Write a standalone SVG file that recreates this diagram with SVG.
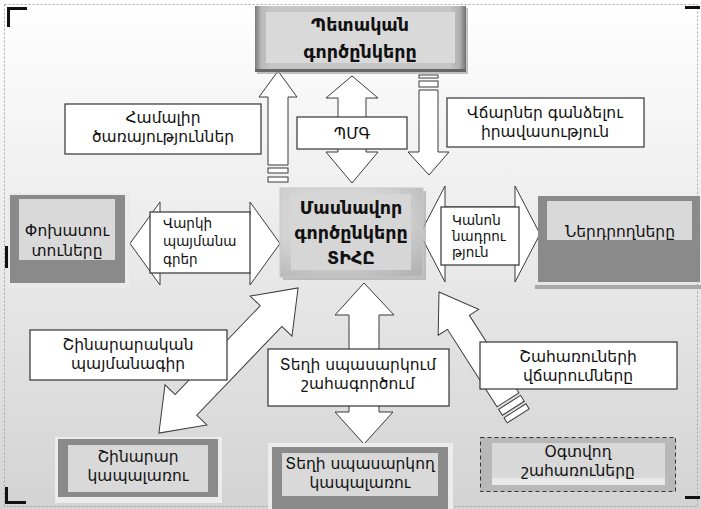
<svg xmlns="http://www.w3.org/2000/svg" width="701" height="509" viewBox="0 0 701 509">
<defs>
<linearGradient id="bg" x1="0" y1="0" x2="0" y2="1">
<stop offset="0" stop-color="#ffffff"/>
<stop offset="0.4" stop-color="#eeeeee"/>
<stop offset="1" stop-color="#d3d3d3"/>
</linearGradient>
<linearGradient id="bevelH" x1="0" y1="0" x2="1" y2="0">
<stop offset="0" stop-color="#7a7a7a"/>
<stop offset="0.03" stop-color="#b8b8b8"/>
<stop offset="0.08" stop-color="#c6c6c6"/>
<stop offset="0.92" stop-color="#c6c6c6"/>
<stop offset="0.97" stop-color="#b0b0b0"/>
<stop offset="1" stop-color="#727272"/>
</linearGradient>
<radialGradient id="ctr" cx="0.4" cy="0.35" r="0.8">
<stop offset="0" stop-color="#e4e4e4"/>
<stop offset="0.6" stop-color="#cfcfcf"/>
<stop offset="1" stop-color="#b4b4b4"/>
</radialGradient>
<style>
.lbl{font-family:"DejaVu Sans","Liberation Sans",sans-serif;font-size:15.5px;fill:#111;text-anchor:middle}
.sm{font-family:"DejaVu Sans","Liberation Sans",sans-serif;font-size:13.5px;fill:#111}
.bold{font-family:"DejaVu Sans","Liberation Sans",sans-serif;font-weight:bold;font-size:17.5px;fill:#111;text-anchor:middle}
.arrow{fill:#ffffff;stroke:#3a3a3a;stroke-width:1}
.box{fill:#ffffff;stroke:#333333;stroke-width:1.2}
.dark{fill:#8a8a8a}
.inner{fill:#d9d9d9}
.mark{fill:#111111}
</style>
</defs>

<rect x="0" y="0" width="701" height="509" fill="url(#bg)"/>
<rect x="4.5" y="4.5" width="693" height="502" fill="none" stroke="#a8a8a8" stroke-width="1" stroke-dasharray="2 2"/>

<g id="frame-marks">
<path class="mark" d="M7 7 H27 V10 H10 V27 H7 Z"/>
<path class="mark" d="M5 487 H8 V501 H26 V504 H5 Z"/>
<rect class="mark" x="685" y="6" width="15" height="3"/>
<rect class="mark" x="685" y="496" width="15" height="3"/>
<rect class="mark" x="345" y="7" width="22" height="3"/>
<rect class="mark" x="345" y="503" width="22" height="3"/>
<rect class="mark" x="5" y="246" width="5" height="22"/>
</g>

<g id="connectors">
<polygon class="arrow" points="278,71 297,97 288,97 288,165 268,165 268,97 259,97"/>
<rect class="arrow" x="268" y="168" width="20" height="5"/>
<rect class="arrow" x="268" y="177" width="20" height="5"/>

<polygon class="arrow" points="352,76 378,98 366,98 366,152 378,152 352,183 326,152 338,152 338,98 326,98"/>

<rect class="arrow" x="419" y="75" width="19" height="3"/>
<rect class="arrow" x="419" y="81" width="19" height="6"/>
<polygon class="arrow" points="419,90 438,90 438,152 449,152 429,175 408,152 419,152"/>

<polygon class="arrow" points="130,243.5 160,202 160,215 250,215 250,202 280,243.5 250,285 250,272 160,272 160,285"/>

<polygon class="arrow" points="420,234 445,186 445,207 515,207 515,186 540,234 515,282 515,262 445,262 445,282"/>

<polygon class="arrow" transform="translate(228.5,360.5) rotate(-46.2)" points="-100.5,0 -61.5,-29 -61.5,-15 61.5,-15 61.5,-29 100.5,0 61.5,29 61.5,15 -61.5,15 -61.5,29"/>

<polygon class="arrow" points="364,283 394,315 379,315 379,412 393,412 364,444 335,412 349,412 349,315 335,315"/>

<g transform="translate(439,292) rotate(-32.6)">
<polygon class="arrow" points="0,0 24,36 13,36 13,128 -13,128 -13,36 -24,36"/>
<rect class="arrow" x="-13" y="131" width="26" height="7"/>
<rect class="arrow" x="-13" y="141" width="26" height="6"/>
</g>
</g>

<g id="label-hamalir">
<rect class="box" x="65" y="104" width="196" height="50"/>
<text class="lbl" x="163" y="123">Համալիր</text>
<text class="lbl" x="163" y="142">ծառայություններ</text>
</g>
<g id="label-pmg">
<rect class="box" x="297" y="117" width="110" height="32"/>
<text class="lbl" x="352" y="139">ՊՄԳ</text>
</g>
<g id="label-vcharner">
<rect class="box" x="447" y="98" width="197" height="49"/>
<text class="lbl" x="545" y="118">Վճարներ գանձելու</text>
<text class="lbl" x="545" y="137">իրավասություն</text>
</g>
<g id="label-varki">
<rect class="box" x="150" y="212" width="100" height="61"/>
<text class="sm" x="163" y="228">Վարկի</text>
<text class="sm" x="163" y="246">պայմանա</text>
<text class="sm" x="163" y="264">գրեր</text>
</g>
<g id="label-kanon">
<rect class="box" x="441" y="207" width="78" height="58"/>
<text class="sm" x="452" y="225" font-size="12">Կանոն</text>
<text class="sm" x="452" y="241" font-size="12">նադրու</text>
<text class="sm" x="452" y="257" font-size="12">թյուն</text>
</g>
<g id="label-shinararakan">
<rect class="box" x="30" y="330" width="197" height="50"/>
<text class="lbl" x="128" y="350">Շինարարական</text>
<text class="lbl" x="128" y="369">պայմանագիր</text>
</g>
<g id="label-teghi">
<rect class="box" x="268" y="349" width="181" height="57"/>
<text class="lbl" x="358" y="370">Տեղի սպասարկում</text>
<text class="lbl" x="358" y="389">շահագործում</text>
</g>
<g id="label-shaharu">
<rect class="box" x="480" y="342" width="197" height="47"/>
<text class="lbl" x="578" y="362">Շահառուների</text>
<text class="lbl" x="578" y="381">վճարումները</text>
</g>

<g id="node-petakan">
<rect x="257" y="8" width="211" height="66" fill="#9a9a9a" opacity="0.6"/>
<rect x="255" y="6" width="211" height="66" fill="url(#bevelH)"/>
<rect x="255" y="69" width="211" height="3" fill="#666666"/>
<rect x="266" y="12" width="189" height="51" fill="#d9d9d9"/>
<text class="bold" x="360" y="31">Պետական</text>
<text class="bold" x="360" y="58">գործընկերը</text>
</g>

<g id="node-masnavor">
<rect x="283" y="191" width="143" height="89" fill="#a8a8a8" opacity="0.7"/>
<rect x="280" y="188" width="143" height="89" fill="url(#ctr)" stroke="#c8c8c8" stroke-width="1"/>
<rect x="291" y="194" width="120" height="76" fill="#d6d6d6"/>
<text class="bold" x="351" y="214">Մասնավոր</text>
<text class="bold" x="351" y="239">գործընկերը</text>
<text class="bold" x="351" y="264">ՏԻՀԸ</text>
</g>

<g id="node-pokhatu">
<rect x="8" y="193" width="122" height="95" fill="#eaeaea"/>
<rect class="dark" x="10" y="195" width="115" height="88"/>
<rect class="inner" x="19" y="199" width="96" height="61"/>
<text class="lbl" x="67" y="236">Փոխատու</text>
<text class="lbl" x="67" y="256">տուները</text>
</g>

<g id="node-nerdrogh">
<rect x="535" y="285" width="166" height="4" fill="#a8a8a8"/>
<rect class="dark" x="538" y="196" width="162" height="86"/>
<rect class="inner" x="547" y="201" width="145" height="39"/>
<text class="lbl" x="620" y="237">Ներդրողները</text>
</g>

<g id="node-shinarar">
<rect x="55" y="437" width="167" height="66" fill="#ececec"/>
<rect class="dark" x="58" y="439" width="160" height="58"/>
<rect class="inner" x="68" y="445" width="140" height="47"/>
<text class="lbl" x="138" y="462">Շինարար</text>
<text class="lbl" x="138" y="481">կապալառու</text>
</g>

<g id="node-teghi">
<rect x="268" y="443" width="185" height="66" fill="#ececec"/>
<rect class="dark" x="272" y="447" width="176" height="62"/>
<rect class="inner" x="282" y="453" width="156" height="43"/>
<text class="lbl" x="360" y="469">Տեղի սպասարկող</text>
<text class="lbl" x="360" y="488">կապալառու</text>
</g>

<g id="node-ogtvogh">
<rect x="480.5" y="437.5" width="195" height="54" fill="#b8b8b8" stroke="#333333" stroke-width="1" stroke-dasharray="4 3"/>
<rect x="492" y="443" width="173" height="42" fill="#d8d8d8"/>
<rect x="492" y="478" width="173" height="7" fill="#e9e9e9"/>
<text class="lbl" x="578" y="457">Օգտվող</text>
<text class="lbl" x="578" y="476">շահառուները</text>
</g>
</svg>
